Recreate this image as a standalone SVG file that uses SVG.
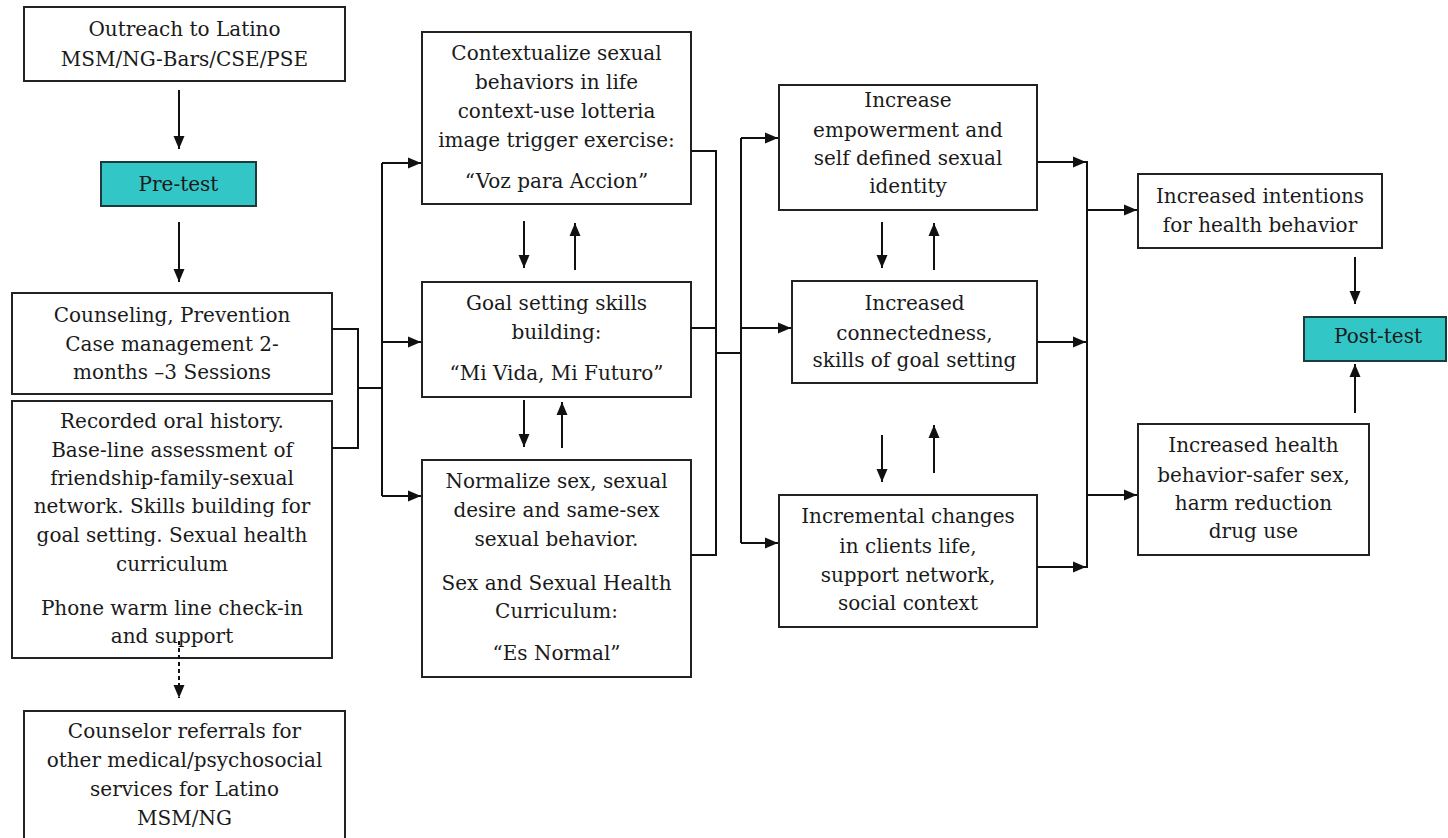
<svg xmlns="http://www.w3.org/2000/svg" width="1448" height="838" viewBox="0 0 1448 838">
<style>
.box{fill:#fff;stroke:#222;stroke-width:2}
.teal{fill:#33c6c6;stroke:#1e3a3a;stroke-width:2}
.t{font-family:"DejaVu Serif","Liberation Serif",serif;font-size:20px;fill:#1a1a1a;text-anchor:middle}
.c{fill:none;stroke:#111;stroke-width:2}
.a{fill:none;stroke:#111;stroke-width:2;marker-end:url(#ah)}
.d{fill:none;stroke:#111;stroke-width:2;stroke-dasharray:4 3;marker-end:url(#ah)}
</style>
<defs>
<marker id="ah" markerUnits="userSpaceOnUse" markerWidth="13" markerHeight="13" viewBox="0 0 13 13" refX="13" refY="6.5" orient="auto">
<path d="M0,1 L13,6.5 L0,12 Z" fill="#111"/>
</marker>
</defs>
<rect width="1448" height="838" fill="#fff"/>

<g id="outreach">
<rect class="box" x="24" y="7" width="321" height="74"/>
<text class="t" x="184.5" y="36">Outreach to Latino</text>
<text class="t" x="184.5" y="66">MSM/NG-Bars/CSE/PSE</text>
</g>

<g id="pretest">
<rect class="teal" x="101" y="162" width="155" height="44"/>
<text class="t" x="178.5" y="191">Pre-test</text>
</g>

<g id="counseling">
<rect class="box" x="12" y="293" width="320" height="101"/>
<text class="t" x="172" y="322">Counseling, Prevention</text>
<text class="t" x="172" y="351">Case management 2-</text>
<text class="t" x="172" y="379">months –3 Sessions</text>
</g>

<g id="recorded">
<rect class="box" x="12" y="401" width="320" height="257"/>
<text class="t" x="172" y="428">Recorded oral history.</text>
<text class="t" x="172" y="457">Base-line assessment of</text>
<text class="t" x="172" y="485">friendship-family-sexual</text>
<text class="t" x="172" y="513">network. Skills building for</text>
<text class="t" x="172" y="542">goal setting. Sexual health</text>
<text class="t" x="172" y="571">curriculum</text>
<text class="t" x="172" y="615">Phone warm line check-in</text>
<text class="t" x="172" y="643">and support</text>
</g>

<g id="referrals">
<rect class="box" x="24" y="711" width="321" height="130"/>
<text class="t" x="184.5" y="738">Counselor referrals for</text>
<text class="t" x="184.5" y="767">other medical/psychosocial</text>
<text class="t" x="184.5" y="796">services for Latino</text>
<text class="t" x="184.5" y="825">MSM/NG</text>
</g>

<g id="contextualize">
<rect class="box" x="422" y="32" width="269" height="172"/>
<text class="t" x="556.5" y="60">Contextualize sexual</text>
<text class="t" x="556.5" y="89">behaviors in life</text>
<text class="t" x="556.5" y="118">context-use lotteria</text>
<text class="t" x="556.5" y="147">image trigger exercise:</text>
<text class="t" x="556.5" y="188">“Voz para Accion”</text>
</g>

<g id="goal">
<rect class="box" x="422" y="282" width="269" height="115"/>
<text class="t" x="556.5" y="310">Goal setting skills</text>
<text class="t" x="556.5" y="339">building:</text>
<text class="t" x="556.5" y="380">“Mi Vida, Mi Futuro”</text>
</g>

<g id="normalize">
<rect class="box" x="422" y="460" width="269" height="217"/>
<text class="t" x="556.5" y="488">Normalize sex, sexual</text>
<text class="t" x="556.5" y="517">desire and same-sex</text>
<text class="t" x="556.5" y="546">sexual behavior.</text>
<text class="t" x="556.5" y="590">Sex and Sexual Health</text>
<text class="t" x="556.5" y="618">Curriculum:</text>
<text class="t" x="556.5" y="660">“Es Normal”</text>
</g>

<g id="empowerment">
<rect class="box" x="779" y="85" width="258" height="125"/>
<text class="t" x="908" y="107">Increase</text>
<text class="t" x="908" y="137">empowerment and</text>
<text class="t" x="908" y="165">self defined sexual</text>
<text class="t" x="908" y="193">identity</text>
</g>

<g id="connectedness">
<rect class="box" x="792" y="281" width="245" height="102"/>
<text class="t" x="914.5" y="310">Increased</text>
<text class="t" x="914.5" y="340">connectedness,</text>
<text class="t" x="914.5" y="367">skills of goal setting</text>
</g>

<g id="incremental">
<rect class="box" x="779" y="495" width="258" height="132"/>
<text class="t" x="908" y="523">Incremental changes</text>
<text class="t" x="908" y="553">in clients life,</text>
<text class="t" x="908" y="582">support network,</text>
<text class="t" x="908" y="610">social context</text>
</g>

<g id="intentions">
<rect class="box" x="1138" y="174" width="244" height="74"/>
<text class="t" x="1260" y="203">Increased intentions</text>
<text class="t" x="1260" y="232">for health behavior</text>
</g>

<g id="posttest">
<rect class="teal" x="1304" y="317" width="142" height="44"/>
<text class="t" x="1378" y="343">Post-test</text>
</g>

<g id="health">
<rect class="box" x="1138" y="424" width="231" height="131"/>
<text class="t" x="1253.5" y="452">Increased health</text>
<text class="t" x="1253.5" y="482">behavior-safer sex,</text>
<text class="t" x="1253.5" y="510">harm reduction</text>
<text class="t" x="1253.5" y="538">drug use</text>
</g>

<g id="connectors">
<path class="a" d="M179,90 V149"/>
<path class="a" d="M179,222 V282"/>
<path class="c" d="M332,329 H358 V448 H332 M358,388 H382"/>
<path class="c" d="M382,163 V496"/>
<path class="a" d="M382,163 H421"/>
<path class="a" d="M382,342 H421"/>
<path class="a" d="M382,496 H421"/>
<path class="d" d="M179,641 V698"/>
<path class="a" d="M524,221 V268"/>
<path class="a" d="M575,270 V223"/>
<path class="a" d="M524,400 V447"/>
<path class="a" d="M562,448 V402"/>
<path class="c" d="M691,151 H716 V555 H691 M691,328 H716 M716,353 H741"/>
<path class="c" d="M741,138 V543"/>
<path class="a" d="M741,138 H778"/>
<path class="a" d="M741,328 H791"/>
<path class="a" d="M741,543 H778"/>
<path class="a" d="M882,222 V268"/>
<path class="a" d="M934,270 V223"/>
<path class="a" d="M882,435 V482"/>
<path class="a" d="M934,473 V425"/>
<path class="a" d="M1037,162 H1086"/>
<path class="a" d="M1037,342 H1086"/>
<path class="a" d="M1037,567 H1086"/>
<path class="c" d="M1087,161 V568"/>
<path class="a" d="M1087,210 H1137"/>
<path class="a" d="M1087,495 H1137"/>
<path class="a" d="M1355,257 V304"/>
<path class="a" d="M1355,413 V364"/>
</g>
</svg>
